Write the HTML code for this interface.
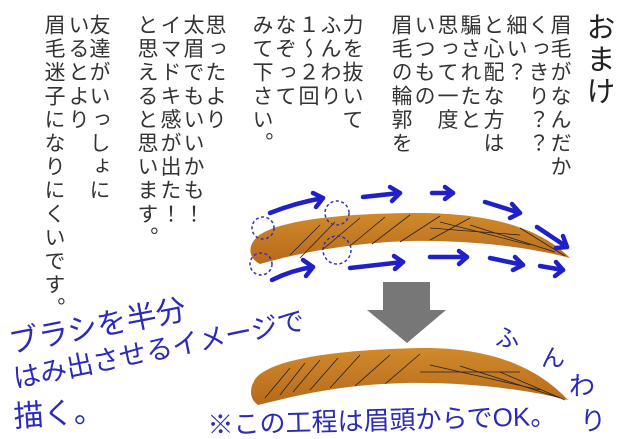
<!DOCTYPE html>
<html><head><meta charset="utf-8"><style>
html,body{margin:0;padding:0;background:#fff;}
#c{position:relative;width:620px;height:439px;overflow:hidden;background:#fff;font-family:"Liberation Sans","Noto Sans CJK JP",sans-serif;}
.v{position:absolute;writing-mode:vertical-rl;font-size:21px;letter-spacing:2.6px;color:#333;line-height:23px;white-space:nowrap;}
.h{position:absolute;color:#2b2bb5;font-family:"Liberation Sans","Noto Sans CJK JP",sans-serif;white-space:nowrap;transform-origin:0 100%;}
</style></head><body><div id="c">
<svg width="620" height="439" style="position:absolute;left:0;top:0">
<defs><linearGradient id="g" x1="0" y1="0" x2="0" y2="1"><stop offset="0" stop-color="#d08a2c"/><stop offset="1" stop-color="#b8691a"/></linearGradient></defs>
<path d="M256,238 C272,222 330,214 410,213 C490,212 540,228 570,258 C530,247 470,240 410,241 C345,243 295,254 260,264 C248,258 248,246 256,238 Z" fill="url(#g)"/>
<g stroke="#222" stroke-width="0.8" fill="none">
<path d="M290,255 L320,225"/><path d="M300,258 L335,222"/><path d="M322,250 L360,218"/><path d="M350,246 L385,217"/><path d="M372,244 L410,215"/><path d="M400,242 L440,216"/><path d="M430,240 L470,218"/><path d="M430,228 L520,235"/><path d="M440,222 L530,245"/><path d="M470,225 L555,252"/><path d="M520,228 L565,256"/>
</g>
<path d="M256,378 C272,360 330,350 420,348 C495,347 540,370 568,400 C530,390 470,382 405,383 C335,385 292,397 258,405 C248,398 250,386 256,378 Z" fill="url(#g)"/>
<g stroke="#222" stroke-width="0.8" fill="none">
<path d="M265,398 L290,368"/><path d="M280,395 L305,363"/><path d="M293,392 L320,360"/><path d="M310,390 L338,358"/><path d="M330,388 L360,355"/><path d="M355,386 L390,355"/><path d="M385,384 L420,354"/><path d="M420,372 L520,372"/><path d="M430,365 L540,390"/><path d="M460,366 L560,398"/><path d="M500,372 L565,400"/>
</g>
<rect x="383" y="282" width="47" height="29" fill="#777"/>
<polygon points="367,310 446,310 407,343" fill="#777"/>
<g stroke="#2020c8" stroke-width="4.5" fill="none" stroke-linecap="round" stroke-linejoin="round">
<path d="M270,213 Q295,203 323,198"/><path d="M313,193 L323,198 L316,207"/>
<path d="M363,197 L400,193"/><path d="M390,187 L400,193 L392,201"/>
<path d="M432,193 L453,193"/><path d="M445,187 L453,193 L445,199"/>
<path d="M485,202 L520,213"/><path d="M512,204 L520,213 L510,218"/>
<path d="M537,227 L567,247"/><path d="M563,236 L567,247 L556,248"/>
<path d="M272,280 Q292,270 313,267"/><path d="M303,260 L313,267 L306,276"/>
<path d="M350,268 L403,262"/><path d="M394,256 L403,262 L395,269"/>
<path d="M430,257 L467,257"/><path d="M459,251 L467,257 L459,264"/>
<path d="M490,258 L523,265"/><path d="M515,257 L523,265 L513,270"/>
<path d="M540,266 L563,270"/><path d="M556,262 L563,270 L555,276"/>
</g>
<g stroke="#3a2fb0" stroke-width="1.5" fill="none" stroke-dasharray="3,2.5">
<circle cx="263" cy="228" r="11"/><circle cx="337" cy="213" r="12"/><circle cx="337" cy="250" r="14"/><circle cx="261" cy="264" r="11"/>
</g>
</svg>
<div class="v" style="left:583px;top:12px;font-size:29px;letter-spacing:3px;line-height:30px;color:#222">おまけ</div>
<div class="v" style="left:548px;top:14px">眉毛がなんだか</div>
<div class="v" style="left:526px;top:14px">くっきり？？</div>
<div class="v" style="left:504px;top:14px">細い？</div>
<div class="v" style="left:481px;top:14px">と心配な方は</div>
<div class="v" style="left:458px;top:14px">騙されたと</div>
<div class="v" style="left:435px;top:14px">思って一度</div>
<div class="v" style="left:412px;top:14px">いつもの</div>
<div class="v" style="left:389px;top:14px">眉毛の輪郭を</div>
<div class="v" style="left:340px;top:14px">力を抜いて</div>
<div class="v" style="left:318px;top:14px">ふんわり</div>
<div class="v" style="left:296px;top:14px">１〜２回</div>
<div class="v" style="left:273px;top:14px">なぞって</div>
<div class="v" style="left:250px;top:14px">みて下さい。</div>
<div class="v" style="left:203px;top:14px">思ったより</div>
<div class="v" style="left:181px;top:14px">太眉でもいいかも！</div>
<div class="v" style="left:158px;top:14px">イマドキ感が出た！</div>
<div class="v" style="left:135px;top:14px">と思えると思います。</div>
<div class="v" style="left:87px;top:14px">友達がいっしょに</div>
<div class="v" style="left:66px;top:14px">いるとより</div>
<div class="v" style="left:42px;top:14px">眉毛迷子になりにくいです。</div>
<div class="h" style="left:13px;top:318px;font-size:30px;transform:rotate(-11deg)">ブラシを半分</div>
<div class="h" style="left:17px;top:357px;font-size:27px;transform:rotate(-11.5deg)">はみ出させるイメージで</div>
<div class="h" style="left:15px;top:392px;font-size:30px;transform:rotate(-4deg)">描く。</div>
<div class="h" style="left:208px;top:405px;font-size:26px;transform:rotate(-1.5deg)">※この工程は眉頭からでOK。</div>
<div class="h" style="left:495px;top:318px;font-size:24px">ふ</div>
<div class="h" style="left:541px;top:338px;font-size:24px">ん</div>
<div class="h" style="left:569px;top:366px;font-size:26px">わ</div>
<div class="h" style="left:580px;top:401px;font-size:26px">り</div>
</div></body></html>
